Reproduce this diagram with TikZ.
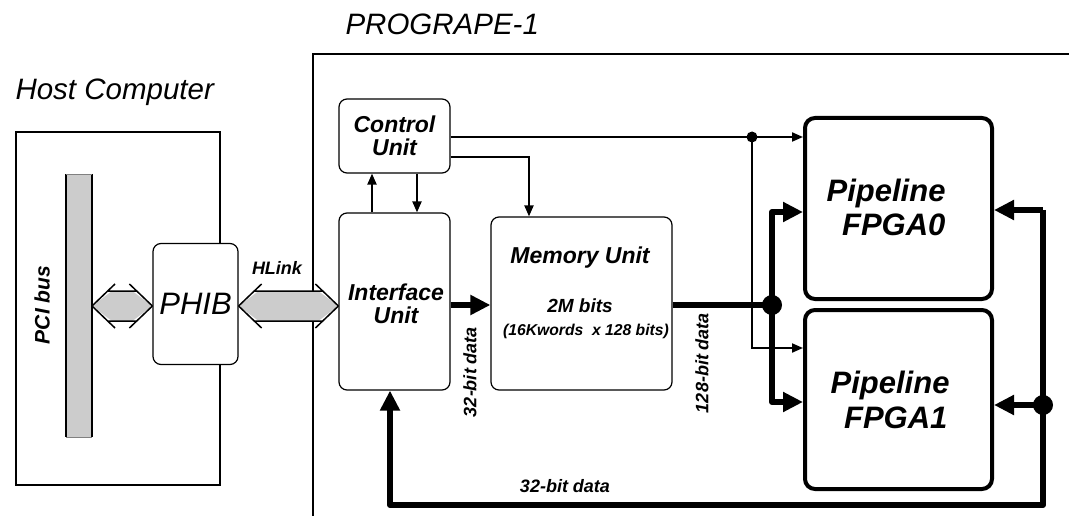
\documentclass[tikz,border=0pt]{standalone}
\usepackage{fontspec}
\setmainfont{Liberation Sans}
\usetikzlibrary{arrows.meta,calc}

\newcommand{\fs}[1]{\fontsize{#1}{#1}\selectfont}
% fat double-headed bus arrow between two points at the same height
\newcommand{\busarrow}[2]{%
  \fill[busfill] (#1) -- ++(20,-15) -- ($(#2)+(-20,-15)$) -- (#2)
    -- ($(#2)+(-20,15)$) -- ($(#1)+(20,15)$) -- cycle;
  \draw[line width=1.5pt] (#1) -- ++(23,-22) (#1) -- ++(23,22)
    (#2) -- ++(-23,-22) (#2) -- ++(-23,22)
    ($(#1)+(15.7,-15)$) -- ($(#2)+(-15.7,-15)$)
    ($(#1)+(15.7,15)$) -- ($(#2)+(-15.7,15)$);}

\tikzset{
  unitbox/.style={draw, line width=1.2pt, rounded corners=8pt, inner sep=0pt,
    font=\fs{23}\bfseries\itshape, align=center},
  unittext/.style={inner sep=0pt, font=\fs{23}\bfseries\itshape, align=center},
  fpgabox/.style={draw, line width=4pt, rounded corners=10pt, inner sep=0pt},
  fpgatext/.style={font=\fs{31}\bfseries\itshape, anchor=base east},
  busfill/.style={fill=black!20},
  ctl/.style={line width=2pt, -{Triangle[length=11pt,width=9pt]}},
  dbus/.style={line width=6pt, line join=round, -{Triangle[length=20pt,width=19pt]}},
  lbl/.style={font=\fs{18}\bfseries\itshape},
  title/.style={font=\fs{29.5}\itshape, anchor=base west},
}

\begin{document}
\begin{tikzpicture}[x=1pt, y=-1pt]
  \useasboundingbox (0,0) rectangle (1069,516);

  % host side
  \draw[line width=2pt] (16,132) rectangle (220,485);
  \node[title] (host) at (12,100) {Host Computer};
  \fill[busfill] (66,174) rectangle (92,437);
  \draw[line width=1.5pt] (66,174) -- (66,437) (92,174) -- (92,437);
  \draw[line width=0.6pt, black!50] (66,174) -- (92,174) (66,437) -- (92,437);
  \node[lbl, font=\fs{21}\bfseries\itshape, rotate=90] (pci) at (42,305) {PCI bus};
  \coordinate (pcir) at (92,306);
  \node[unitbox, fill=white, font=\fs{31}\itshape, minimum width=85, minimum height=121]
    (phib) at (195.5,304) {PHIB};

  % PROGRAPE-1 board
  \draw[line width=2pt] (1069,54) -- (313,54) -- (313,516);
  \node[title] (board) at (342,35) {PROGRAPE-1};

  \node[unitbox, minimum width=111, minimum height=74] (ctrl) at (394.5,136) {Control\\Unit};
  \node[unitbox, minimum width=111, minimum height=177] (iface) at (394.5,301.5) {};
  \node[unittext] (ifacetxt) at (396,304) {Interface\\Unit};
  \node[unitbox, minimum width=181, minimum height=173] (mem) at (581.5,303.5) {};
  \node[font=\fs{23}\bfseries\itshape, anchor=base] (memtitle) at (580,263) {Memory Unit};
  \node[font=\fs{19}\bfseries\itshape, anchor=base] (memsize) at (580,312) {2M bits};
  \node[font=\fs{15.7}\bfseries\itshape, anchor=base] (memorg) at (586,335) {(16Kwords\ \ x 128 bits)};

  \node[fpgabox, minimum width=187, minimum height=181] (f0) at (898.5,208.5) {};
  \node[fpgabox, minimum width=187, minimum height=179] (f1) at (898.5,399.5) {};
  \node[fpgatext] (f0txt) at (949,202) {Pipeline};
  \node[fpgatext] (f0name) at (949,236) {FPGA0};
  \node[fpgatext] (f1txt) at (953,393) {Pipeline};
  \node[fpgatext] (f1name) at (951,428) {FPGA1};

  % host link
  \busarrow{pcir}{phib.west |- pcir}
  \busarrow{phib.east |- pcir}{iface.west |- pcir}
  \node[lbl] (hlink) at (277,268) {HLink};

  % control lines
  \draw[ctl] (iface.north -| 372,0) -- (ctrl.south -| 372,0);
  \draw[ctl] (ctrl.south -| 417,0) -- (iface.north -| 417,0);
  \coordinate (m0) at (529,157);
  \draw[ctl] (ctrl.east |- m0) -| (mem.north -| m0);
  \coordinate (c0) at (752,137);
  \coordinate (c1) at (752,348);
  \draw[ctl] (ctrl.east |- c0) -- (f0.west |- c0);
  \draw[ctl] (c0) -- (c1) -- (f1.west |- c1);
  \fill (c0) circle (5.5);

  % data path
  \coordinate (j1) at (772,305);
  \coordinate (a0) at (772,212);
  \coordinate (a1) at (772,402);
  \draw[dbus] (iface.east |- j1) -- (mem.west |- j1);
  \draw[dbus, -] (mem.east |- j1) -- (j1);
  \draw[dbus] (j1) -- (a0) -- (f0.west |- a0);
  \draw[dbus] (j1) -- (a1) -- (f1.west |- a1);
  \fill (j1) circle (10);
  \node[lbl, rotate=90] (lbl32a) at (470,372) {32-bit data};
  \node[lbl, rotate=90] (lbl128) at (702,363) {128-bit data};

  % result path back to interface
  \coordinate (r0) at (1043,210);
  \coordinate (j2) at (1043,405);
  \coordinate (r2) at (1043,505);
  \coordinate (b0) at (390,505);
  \draw[dbus] (r0) -- (f0.east |- r0);
  \draw[dbus] (j2) -- (f1.east |- j2);
  \draw[dbus] (r0) -- (r2) -- (b0) -- (iface.south -| b0);
  \fill (j2) circle (10);
  \node[lbl] (lbl32b) at (565,486) {32-bit data};
\end{tikzpicture}
\end{document}
